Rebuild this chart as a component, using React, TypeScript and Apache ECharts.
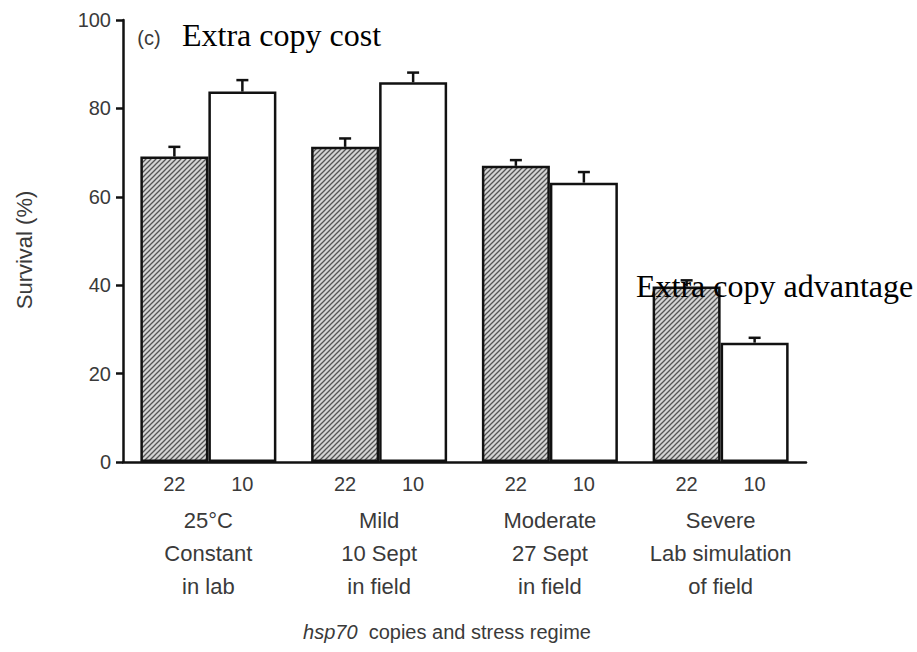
import React, { useEffect, useRef } from "react";
import * as echarts from "echarts";

// Stress regimes (one group of bars each) and their three-line captions
const regimes = ["25°C constant", "Mild", "Moderate", "Severe"];
const regimeLines = [
  ["25°C", "Constant", "in lab"],
  ["Mild", "10 Sept", "in field"],
  ["Moderate", "27 Sept", "in field"],
  ["Severe", "Lab simulation", "of field"],
];
// hsp70 copy numbers of the two strains
const copyLabels = ["22", "10"];

// Survival (%) and upper standard-error half-widths
const survival22 = [69.1, 71.3, 67.0, 39.7];
const survival10 = [83.8, 85.9, 63.2, 27.0];
const error22 = [2.2, 1.9, 1.3, 1.4];
const error10 = [2.6, 2.2, 2.4, 1.1];

const yTicks = { min: 0, max: 100, interval: 20 };

const SANS = '"Liberation Sans", Arial, sans-serif';
const SERIF = '"Liberation Serif", "Times New Roman", serif';
const TEXT_GREY = "#3a3a3a";
const BAR_W = 68;

// Repeating tile of fine "/" hatching for the 22-copy bars
function hatchTile(): HTMLCanvasElement {
  const s = 5;
  const c = document.createElement("canvas");
  c.width = s;
  c.height = s;
  const ctx = c.getContext("2d")!;
  ctx.fillStyle = "#d4d4d4";
  ctx.fillRect(0, 0, s, s);
  ctx.strokeStyle = "#555555";
  ctx.lineWidth = 1.3;
  ctx.beginPath();
  ctx.moveTo(0, s);
  ctx.lineTo(s, 0);
  ctx.moveTo(-1, 1);
  ctx.lineTo(1, -1);
  ctx.moveTo(s - 1, s + 1);
  ctx.lineTo(s + 1, s - 1);
  ctx.stroke();
  return c;
}

function errorSeries(values: number[], errors: number[], side: number) {
  return {
    type: "custom",
    z: 5,
    data: values.map((v, i) => [i, v, errors[i]]),
    renderItem: (_params: any, api: any) => {
      const cat = api.value(0);
      const v = api.value(1);
      const e = api.value(2);
      const base = api.coord([cat, v]);
      const top = api.coord([cat, v + e]);
      const cx = base[0] + side * (BAR_W / 2);
      const style = { stroke: "#111", lineWidth: 2.5 };
      return {
        type: "group",
        children: [
          { type: "line", shape: { x1: cx, y1: base[1], x2: cx, y2: top[1] }, style },
          { type: "line", shape: { x1: cx - 6, y1: top[1], x2: cx + 6, y2: top[1] }, style },
        ],
      };
    },
  };
}

export default function App() {
  const ref = useRef<HTMLDivElement>(null);

  useEffect(() => {
    if (!ref.current) return;
    const chart = echarts.init(ref.current, null, { renderer: "svg" });

    const option = {
      animation: false,
      backgroundColor: "#ffffff",
      grid: { left: 123, right: 111, top: 20, bottom: 190, containLabel: false },
      xAxis: {
        type: "category",
        data: regimes,
        axisTick: { show: false },
        axisLine: { lineStyle: { color: "#111", width: 2.5 } },
        axisLabel: {
          interval: 0,
          margin: 1,
          formatter: (_v: string, idx: number) => {
            const l = regimeLines[idx];
            return (
              `{n|${copyLabels[0]}}{n|${copyLabels[1]}}\n` +
              `{g|${l[0]}}\n{g|${l[1]}}\n{g|${l[2]}}`
            );
          },
          rich: {
            n: {
              width: BAR_W,
              align: "center",
              lineHeight: 41,
              fontSize: 20,
              fontFamily: SANS,
              color: TEXT_GREY,
            },
            g: {
              align: "center",
              lineHeight: 33,
              fontSize: 22,
              fontFamily: SANS,
              color: TEXT_GREY,
            },
          },
        },
      },
      yAxis: {
        type: "value",
        min: yTicks.min,
        max: yTicks.max,
        interval: yTicks.interval,
        name: "Survival (%)",
        nameLocation: "middle",
        nameGap: 88,
        nameTextStyle: {
          fontSize: 22,
          fontFamily: SANS,
          color: TEXT_GREY,
          padding: [0, 18, 0, 0],
        },
        axisLine: { show: true, lineStyle: { color: "#111", width: 2.5 } },
        axisTick: { show: true, length: 7, lineStyle: { color: "#111", width: 2.5 } },
        splitLine: { show: false },
        axisLabel: { margin: 12, fontSize: 20, fontFamily: SANS, color: TEXT_GREY },
      },
      series: [
        {
          name: "22 copies",
          type: "bar",
          data: survival22,
          barWidth: BAR_W,
          barGap: "0%",
          itemStyle: {
            color: { image: hatchTile(), repeat: "repeat" },
            borderColor: "#111",
            borderWidth: 2.5,
          },
        },
        {
          name: "10 copies",
          type: "bar",
          data: survival10,
          barWidth: BAR_W,
          barGap: "0%",
          itemStyle: { color: "#ffffff", borderColor: "#111", borderWidth: 2.5 },
        },
        errorSeries(survival22, error22, -1),
        errorSeries(survival10, error10, 1),
      ],
      graphic: [
        {
          type: "text",
          x: 149,
          y: 38,
          z: 20,
          style: {
            text: "(c)",
            font: `20px ${SANS}`,
            fill: TEXT_GREY,
            textAlign: "center",
            textVerticalAlign: "middle",
          },
        },
        {
          type: "text",
          x: 182,
          y: 35,
          z: 20,
          style: {
            text: "Extra copy cost",
            font: `32px ${SERIF}`,
            fill: "#000",
            textAlign: "left",
            textVerticalAlign: "middle",
          },
        },
        {
          type: "text",
          x: 636,
          y: 286,
          z: 20,
          style: {
            text: "Extra copy advantage",
            font: `32px ${SERIF}`,
            fill: "#000",
            textAlign: "left",
            textVerticalAlign: "middle",
          },
        },
        {
          type: "text",
          x: 447,
          y: 632,
          z: 20,
          style: {
            rich: {
              i: { font: `italic 20px ${SANS}`, fill: TEXT_GREY },
              r: { font: `20px ${SANS}`, fill: TEXT_GREY },
            },
            text: "{i|hsp70}{r|  copies and stress regime}",
            textAlign: "center",
            textVerticalAlign: "middle",
          },
        },
      ],
    };

    chart.setOption(option as any);
    return () => chart.dispose();
  }, []);

  return (
    <div
      ref={ref}
      style={{ position: "fixed", left: 0, top: 0, width: 917, height: 652, background: "#fff" }}
    />
  );
}
